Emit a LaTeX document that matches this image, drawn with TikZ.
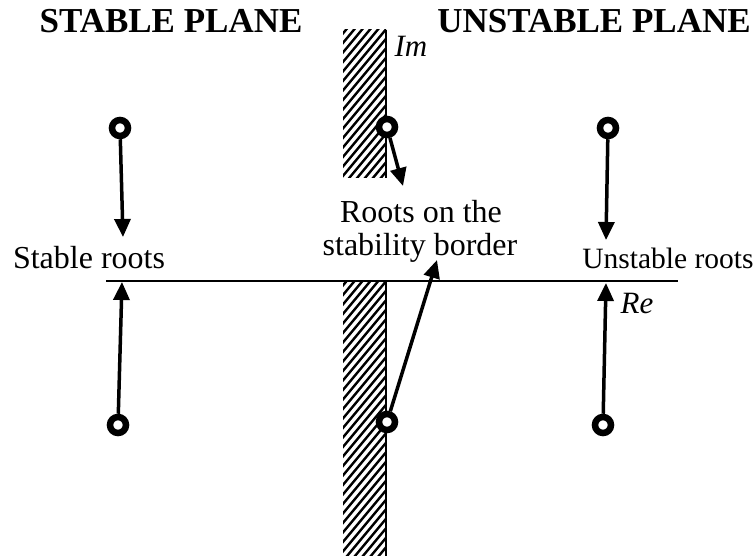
\documentclass[tikz,border=0pt]{standalone}
\usepackage{fontspec}
\setmainfont{Liberation Serif}
\usetikzlibrary{arrows.meta}
\begin{document}
\begin{tikzpicture}[x=1pt,y=-1pt,
  root/.style={circle,draw,line width=6.5pt,minimum size=16pt,inner sep=0pt,fill=white},
  move/.style={line width=3.5pt,-{Triangle[length=18pt,width=16pt]}},
  lbl/.style={font=\fontsize{32}{36}\selectfont,inner sep=0pt},
  ttl/.style={font=\fontsize{35}{39}\selectfont\bfseries,inner sep=0pt},
  axl/.style={font=\fontsize{31}{35}\selectfont\itshape,inner sep=0pt}]
\useasboundingbox (0,0) rectangle (756,556);
% hatched strips
\begin{scope}
  \clip (343,30) rectangle (386,178);
  \foreach \k in {0,...,40}{\draw[line width=2.4pt] (330,{30+9.5*\k}) -- ++(70,-84);}
\end{scope}
\begin{scope}
  \clip (343,282) rectangle (386,556);
  \foreach \k in {0,...,45}{\draw[line width=2.4pt] (330,{282+9.5*\k}) -- ++(70,-84);}
\end{scope}
\draw[line width=1.5pt] (386,30) -- (386,178);
\draw[line width=1.5pt] (386,282) -- (386,556);
% real axis
\draw[line width=2pt] (106,281) -- (678,281);
% labels
\node[ttl] (ts) at (171,21) {STABLE PLANE};
\node[ttl] (tu) at (594,21) {UNSTABLE PLANE};
\node[axl] (im) at (411,46) {Im};
\node[axl] (re) at (637,304) {Re};
\node[lbl] (ls) at (89,258) {Stable roots};
\node[lbl] (lb1) at (421,212) {Roots on the};
\node[lbl] (lb2) at (420,248) {stability border};
\node[lbl,font=\fontsize{29.5}{34}\selectfont] (lu) at (668,258) {Unstable roots};
% roots
\node[root] (c1) at (120,128) {};
\node[root] (c2) at (118,425) {};
\node[root] (c3) at (387,127) {};
\node[root] (c4) at (387,422) {};
\node[root] (c5) at (608,128) {};
\node[root] (c6) at (603,425) {};
\coordinate (t1) at (123,237);
\coordinate (t2) at (122,282);
\coordinate (t3) at (403,186);
\coordinate (t4) at (437,260);
\coordinate (t5) at (606,240);
\coordinate (t6) at (606,283);
\draw[move] (c1) -- (t1);
\draw[move] (c2) -- (t2);
\draw[move] (c3) -- (t3);
\draw[move] (c4) -- (t4);
\draw[move] (c5) -- (t5);
\draw[move] (c6) -- (t6);
\end{tikzpicture}
\end{document}
